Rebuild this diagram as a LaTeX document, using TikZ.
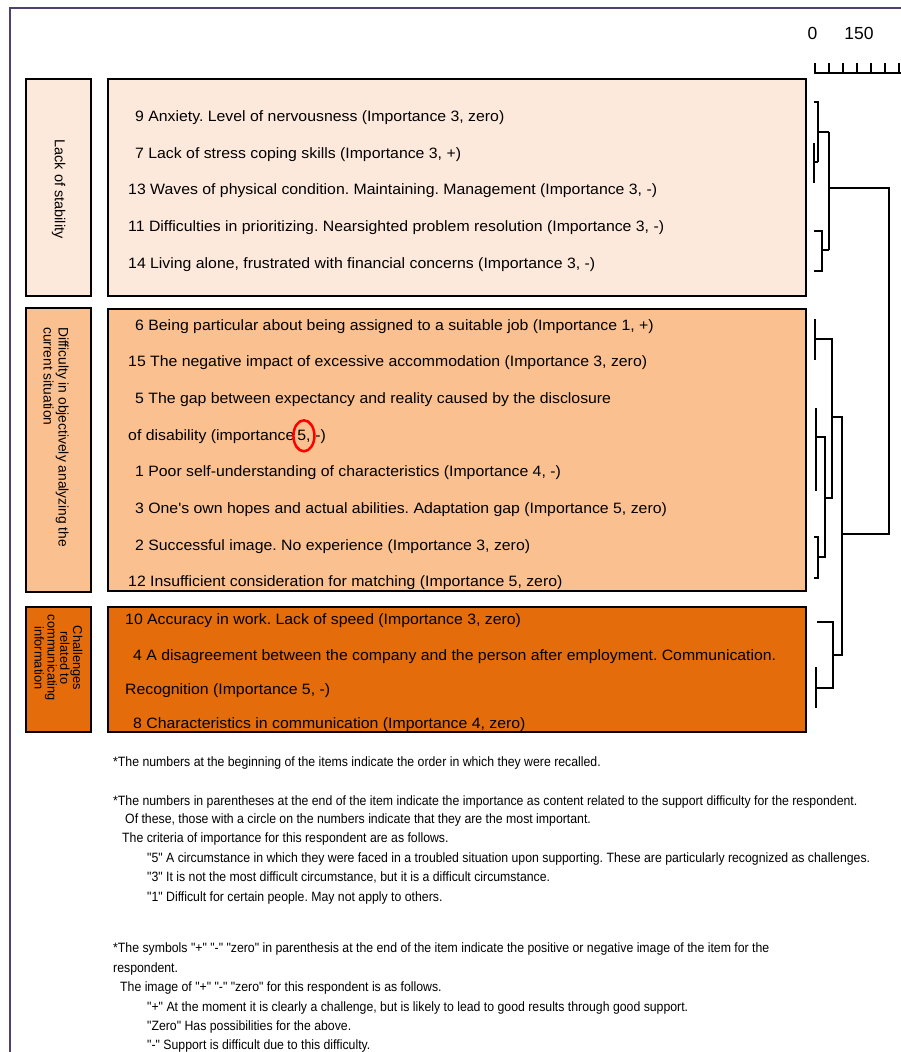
\documentclass[tikz,border=0pt]{standalone}
\usepackage{fontspec}
\setmainfont{Liberation Sans}
\newfontfamily\itemfont[FakeStretch=1.055]{Liberation Sans}
\newfontfamily\narrowfont[FakeStretch=0.91]{Liberation Sans}
\usetikzlibrary{shapes.geometric}
\definecolor{frameC}{RGB}{80,64,110}
\definecolor{fillA}{RGB}{253,233,219}
\definecolor{fillB}{RGB}{250,192,143}
\definecolor{fillC}{RGB}{228,108,10}
\frenchspacing
\begin{document}
\begin{tikzpicture}[x=1pt,y=-1pt,
  box/.style={draw=black, line width=1.6pt},
  item/.style={inner sep=0pt, font=\itemfont\fontsize{15}{17}\selectfont, anchor=base west},
  note/.style={inner sep=0pt, font=\narrowfont\fontsize{13.5}{15}\selectfont, anchor=base west},
  lab/.style={inner sep=0pt, rotate=-90, font=\fontsize{14.5}{15}\selectfont},
  dendro/.style={line width=1.6pt},
  scalelab/.style={inner sep=0pt, font=\fontsize{17.5}{19}\selectfont}
]
\useasboundingbox (0,0) rectangle (901,1052);
% frame
\draw[frameC, line width=2.5pt] (10,1060) -- (10,8) -- (910,8);

% scale
\node[scalelab] (s0) at (812.5,33) {0};
\node[scalelab] (s150) at (859,33) {150};
\draw[dendro] (814,73) -- (905,73);
\foreach \tx in {815,829,843,857,871,885,899} \draw[dendro] (\tx,63) -- (\tx,73);

% boxes
\draw[box, fill=fillA] (26,79) rectangle (91,296);
\draw[box, fill=fillA] (108,79) rectangle (806,296);
\draw[box, fill=fillB] (26,308) rectangle (91,592);
\draw[box, fill=fillB] (108,309) rectangle (806,591);
\draw[box, fill=fillC] (26,607) rectangle (91,732);
\draw[box, fill=fillC] (108,607) rectangle (806,732);

% labels
\node[lab] (labA) at (58.5,189) {Lack of stability};
\node[lab, align=left, anchor=west, font=\fontsize{13.8}{15}\selectfont] (labB) at (56,327) {Difficulty in objectively analyzing the\\current situation};
\node[lab, align=center, font=\fontsize{12.8}{12.8}\selectfont] (labC) at (58.5,658) {Challenges\\related to\\communicating\\information};

% group 1 items
\node[item] (i9) at (135,121) {9 Anxiety. Level of nervousness (Importance 3, zero)};
\node[item] (i7) at (135,158) {7 Lack of stress coping skills (Importance 3, +)};
\node[item] (i13) at (128,194) {13 Waves of physical condition. Maintaining. Management (Importance 3, -)};
\node[item] (i11) at (128,231) {11 Difficulties in prioritizing. Nearsighted problem resolution (Importance 3, -)};
\node[item] (i14) at (128,268) {14 Living alone, frustrated with financial concerns (Importance 3, -)};

% group 2 items
\node[item] (i6) at (135,330) {6 Being particular about being assigned to a suitable job (Importance 1, +)};
\node[item] (i15) at (128,366) {15 The negative impact of excessive accommodation (Importance 3, zero)};
\node[item] (i5) at (135,403) {5 The gap between expectancy and reality caused by the disclosure};
\node[item] (i5b) at (128,440) {of disability (importance};
\node[item] (i5c) at ([xshift=2.5pt]i5b.base east) {5,};
\node[item] (i5d) at ([xshift=4.5pt]i5c.base east) {-)};
\draw[red, line width=2.5pt] (i5c.center) ellipse [x radius=10.5pt, y radius=15.5pt];
\node[item] (i1) at (135,476) {1 Poor self-understanding of characteristics (Importance 4, -)};
\node[item] (i3) at (135,513) {3 One's own hopes and actual abilities. Adaptation gap (Importance 5, zero)};
\node[item] (i2) at (135,550) {2 Successful image. No experience (Importance 3, zero)};
\node[item] (i12) at (128,586) {12 Insufficient consideration for matching (Importance 5, zero)};

% group 3 items
\node[item] (i10) at (125,624) {10 Accuracy in work. Lack of speed (Importance 3, zero)};
\node[item] (i4) at (133,660) {4 A disagreement between the company and the person after employment. Communication.};
\node[item] (i4b) at (125,694) {Recognition (Importance 5, -)};
\node[item] (i8) at (133,728) {8 Characteristics in communication (Importance 4, zero)};

% dendrogram
\draw[dendro] (814,102) -- (818,102) -- (818,162);
\draw[dendro] (814,143) -- (814,183);
\draw[dendro] (814,162) -- (818,162);
\draw[dendro] (818,132) -- (829,132);
\draw[dendro] (814,231) -- (822,231) -- (822,271) -- (814,271);
\draw[dendro] (822,250) -- (829,250);
\draw[dendro] (829,132) -- (829,250);
\draw[dendro] (829,188) -- (889,188) -- (889,534) -- (842,534);
\draw[dendro] (815,319) -- (815,360);
\draw[dendro] (815,339) -- (832,339) -- (832,498) -- (825,498);
\draw[dendro] (816,408) -- (816,491);
\draw[dendro] (816,437) -- (825,437) -- (825,557) -- (818,557);
\draw[dendro] (814,537) -- (818,537) -- (818,578) -- (814,578);
\draw[dendro] (832,417) -- (842,417) -- (842,655) -- (833,655);
\draw[dendro] (817,622) -- (833,622) -- (833,688) -- (816,688);
\draw[dendro] (816,667) -- (816,708);

% notes
\node[note] (n1) at (113,766) {*The numbers at the beginning of the items indicate the order in which they were recalled.};
\node[note] (n2) at (113,805) {*The numbers in parentheses at the end of the item indicate the importance as content related to the support difficulty for the respondent.};
\node[note] (n3) at (125,823) {Of these, those with a circle on the numbers indicate that they are the most important.};
\node[note] (n4) at (122,842) {The criteria of importance for this respondent are as follows.};
\node[note] (n5) at (147,862) {"5" A circumstance in which they were faced in a troubled situation upon supporting. These are particularly recognized as challenges.};
\node[note] (n6) at (147,881) {"3" It is not the most difficult circumstance, but it is a difficult circumstance.};
\node[note] (n7) at (147,901) {"1" Difficult for certain people. May not apply to others.};
\node[note] (n8) at (113,952) {*The symbols "+" "-" "zero" in parenthesis at the end of the item indicate the positive or negative image of the item for the};
\node[note] (n9) at (113,972) {respondent.};
\node[note] (n10) at (120,991) {The image of "+" "-" "zero" for this respondent is as follows.};
\node[note] (n11) at (147,1011) {"+" At the moment it is clearly a challenge, but is likely to lead to good results through good support.};
\node[note] (n12) at (147,1030) {"Zero" Has possibilities for the above.};
\node[note] (n13) at (147,1049) {"-" Support is difficult due to this difficulty.};
\end{tikzpicture}
\end{document}
